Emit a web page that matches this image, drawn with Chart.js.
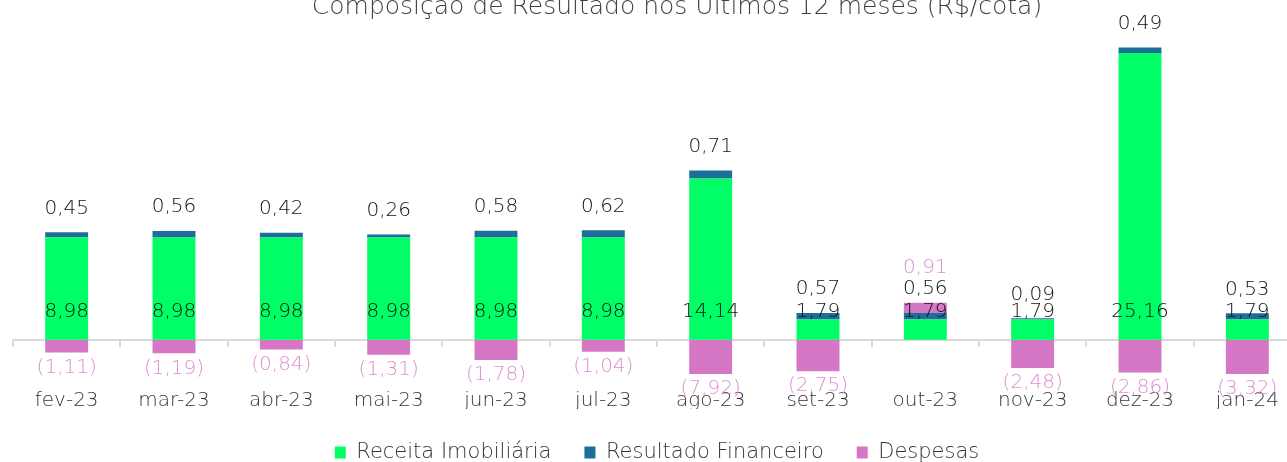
<!DOCTYPE html>
<html>
<head>
<meta charset="utf-8">
<script src="https://cdn.jsdelivr.net/npm/chart.js@4"></script>
<style>
html, body { margin: 0; padding: 0; overflow: hidden; background: #fff; width: 1287px; height: 462px; }
#wrap { position: absolute; left: 0; top: -16px; width: 1354px; height: 489px; }
</style>
</head>
<body>
<div id="wrap"><canvas id="chart"></canvas></div>
<script>
const meses = ["fev-23", "mar-23", "abr-23", "mai-23", "jun-23", "jul-23", "ago-23", "set-23", "out-23", "nov-23", "dez-23", "jan-24"];
const receita = [8.98, 8.98, 8.98, 8.98, 8.98, 8.98, 14.14, 1.79, 1.79, 1.79, 25.16, 1.79];
const financeiro = [0.45, 0.56, 0.42, 0.26, 0.58, 0.62, 0.71, 0.57, 0.56, 0.09, 0.49, 0.53];
const despesas = [-1.11, -1.19, -0.84, -1.31, -1.78, -1.04, -7.92, -2.75, 0.91, -2.48, -2.86, -3.32];

const fonte = "'DejaVu Sans', sans-serif";

function fmt(v) {
  const s = Math.abs(v).toFixed(2).replace(".", ",");
  return v < 0 ? "(" + s + ")" : s;
}

// rótulos de valor desenhados sobre as barras
const rotulos = {
  id: "rotulos",
  afterDatasetsDraw(chart) {
    const ctx = chart.ctx;
    const zero = chart.scales.y.getPixelForValue(0);
    const area = chart.chartArea;
    ctx.save();
    ctx.font = "300 20px " + fonte;
    ctx.textAlign = "center";
    ctx.textBaseline = "middle";
    meses.forEach((m, i) => {
      const g = chart.getDatasetMeta(0).data[i];
      const b = chart.getDatasetMeta(1).data[i];
      const d = chart.getDatasetMeta(2).data[i];
      ctx.fillStyle = "#111";
      ctx.fillText(fmt(receita[i]), g.x, zero - 28);
      const yb = b.y - 24;
      ctx.fillText(fmt(financeiro[i]), b.x, yb);
      ctx.fillStyle = "#e08bd3";
      if (despesas[i] < 0) {
        ctx.fillText(fmt(despesas[i]), d.x, Math.min(d.y, area.bottom) + 15);
      } else {
        ctx.fillText(fmt(despesas[i]), d.x, yb - 21);
      }
    });
    ctx.restore();
  }
};

new Chart(document.getElementById("chart"), {
  type: "bar",
  data: {
    labels: meses,
    datasets: [
      { label: "Receita Imobiliária", data: receita, backgroundColor: "#00ff66" },
      { label: "Resultado Financeiro", data: financeiro, backgroundColor: "#1b6f98" },
      { label: "Despesas", data: despesas, backgroundColor: "#d677c6" }
    ]
  },
  options: {
    responsive: true,
    maintainAspectRatio: false,
    animation: false,
    datasets: { bar: { categoryPercentage: 0.4, barPercentage: 1 } },
    plugins: {
      title: {
        display: true,
        text: "Composição de Resultado nos Últimos 12 meses (R$/cota)",
        color: "#404040",
        font: { family: fonte, size: 25, weight: "300" },
        padding: { top: 8, bottom: 10 }
      },
      legend: {
        position: "bottom",
        fullSize: false,
        labels: {
          color: "#333",
          font: { family: fonte, size: 21, weight: "300" },
          boxWidth: 11,
          boxHeight: 12,
          padding: 33
        }
      },
      tooltip: { enabled: false }
    },
    scales: {
      x: {
        stacked: true,
        grid: { display: false, drawTicks: false },
        border: { display: false },
        ticks: { padding: 15, color: "#333", font: { family: fonte, size: 20, weight: "300" } },
        afterFit(s) { s.height = 35; }
      },
      x2: {
        type: "category",
        position: { y: 0 },
        offset: true,
        grid: { offset: true, drawOnChartArea: false, color: "#d9d9d9", lineWidth: 2, tickLength: 6 },
        border: { color: "#d9d9d9", width: 2 },
        ticks: { display: false }
      },
      y: {
        stacked: true,
        min: -3,
        max: 27,
        grid: { display: false },
        border: { display: false },
        ticks: { display: false },
        afterFit(s) { s.width = 13; }
      },
      yr: {
        position: "right",
        min: 0,
        max: 1,
        grid: { display: false },
        border: { display: false },
        ticks: { display: false },
        afterFit(s) { s.width = 53; }
      }
    }
  },
  plugins: [rotulos]
});
</script>
</body>
</html>
